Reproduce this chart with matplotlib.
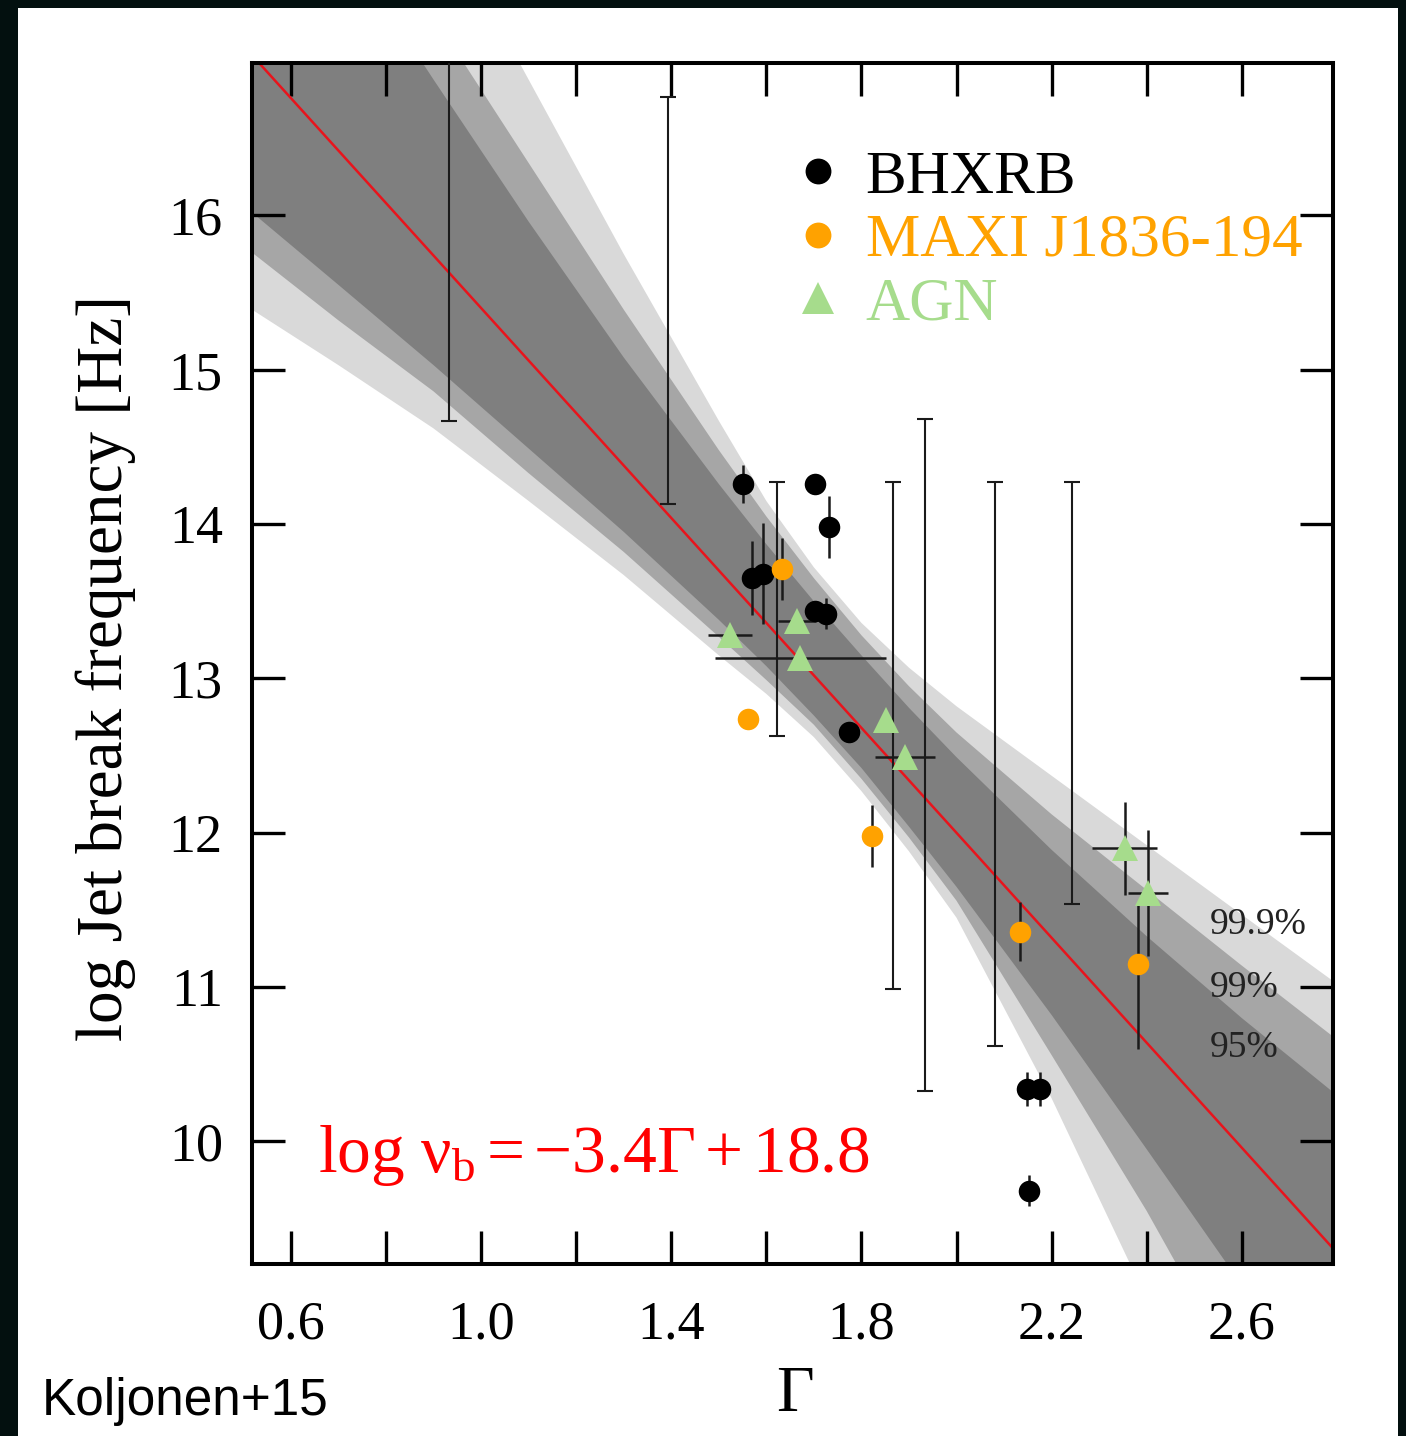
import numpy as np
import matplotlib
matplotlib.use("Agg")
import matplotlib.pyplot as plt
from matplotlib.patches import Rectangle
from matplotlib.ticker import FixedLocator, MultipleLocator

plt.rcParams['font.family'] = 'Liberation Serif'
plt.rcParams['mathtext.fontset'] = 'custom'
plt.rcParams['mathtext.rm'] = 'Liberation Serif'
plt.rcParams['mathtext.it'] = 'Liberation Serif:italic'

# best fit quoted in the figure: log nu_b = -3.4 Gamma + 18.8
fit_slope = -3.4
fit_intercept = 18.8

# confidence bands of the fit (edges read along Gamma)
band_gamma = [0.518, 0.7, 0.9, 1.1, 1.3, 1.5, 1.6, 1.7, 1.8, 1.9, 2.0, 2.2, 2.4, 2.6, 2.792]
band95_hi = [18.69, 17.82, 16.88, 15.96, 15.08, 14.26, 13.87, 13.50, 13.15, 12.81, 12.49, 11.89, 11.33, 10.80, 10.32]
band95_lo = [16.02, 15.55, 15.03, 14.49, 13.95, 13.38, 13.08, 12.76, 12.42, 12.04, 11.65, 10.82, 9.95, 9.07, 8.20]
band99_hi = [19.10, 18.25, 17.29, 16.34, 15.39, 14.48, 14.05, 13.65, 13.28, 12.95, 12.65, 12.12, 11.63, 11.14, 10.68]
band99_lo = [15.76, 15.32, 14.86, 14.33, 13.82, 13.27, 12.99, 12.70, 12.35, 11.97, 11.56, 10.56, 9.55, 8.45, 7.40]
band999_hi = [20.20, 19.16, 18.01, 16.88, 15.75, 14.67, 14.15, 13.72, 13.36, 13.07, 12.82, 12.37, 11.92, 11.47, 11.04]
band999_lo = [15.39, 15.03, 14.62, 14.15, 13.67, 13.15, 12.90, 12.62, 12.27, 11.88, 11.45, 10.28, 8.98, 7.60, 6.30]

# black hole X-ray binaries
bhxrb_gamma = [1.550, 1.702, 1.732, 1.569, 1.592, 1.702, 1.725, 1.774, 2.148, 2.175, 2.152]
bhxrb_lognu = [14.26, 14.26, 13.98, 13.65, 13.68, 13.44, 13.42, 12.65, 10.34, 10.34, 9.68]
bhxrb_err = [0.12, 0.0, 0.20, 0.24, 0.33, 0.0, 0.10, 0.0, 0.11, 0.11, 0.10]

# MAXI J1836-194
maxi_gamma = [1.632, 1.561, 1.822, 2.133, 2.382]
maxi_lognu = [13.71, 12.74, 11.98, 11.36, 11.15]
maxi_err_lo = [0.20, 0.0, 0.20, 0.19, 0.55]
maxi_err_hi = [0.20, 0.0, 0.20, 0.19, 0.39]

# AGN
agn_gamma = [1.523, 1.664, 1.671, 1.851, 1.891, 2.354, 2.403]
agn_lognu = [13.28, 13.37, 13.13, 12.73, 12.49, 11.90, 11.61]
agn_xerr = [0.046, 0.040, 0.180, 0.0, 0.063, 0.068, 0.042]
agn_yerr = [0.0, 0.0, 0.0, 0.0, 0.0, 0.30, 0.41]

# sources with only a range on the break frequency
range_gamma = [0.932, 1.393, 1.622, 1.866, 1.933, 2.081, 2.243]
range_lo = [14.67, 14.13, 12.63, 10.99, 10.33, 10.62, 11.54]
range_hi = [17.40, 16.77, 14.27, 14.27, 14.68, 14.27, 14.27]

gamma_min, gamma_max = 0.518, 2.792
lognu_min, lognu_max = 9.206, 16.99

c_black = '#000000'
c_orange = '#ffa200'
c_green = '#a6dc8c'

fig = plt.figure(figsize=(14.06, 14.36), dpi=100)
fig.patch.set_facecolor('#03100f')
fig.add_artist(Rectangle((18 / 1406, 0), 1380 / 1406, 1428 / 1436,
                         transform=fig.transFigure, facecolor='white',
                         edgecolor='none', zorder=-5))

ax = fig.add_axes([252 / 1406, 172 / 1436, 1081 / 1406, 1201.3 / 1436])

# shaded confidence regions
ax.fill_between(band_gamma, band999_lo, band999_hi, color='#d9d9d9', lw=0, zorder=1)
ax.fill_between(band_gamma, band99_lo, band99_hi, color='#a6a6a6', lw=0, zorder=1)
ax.fill_between(band_gamma, band95_lo, band95_hi, color='#7f7f7f', lw=0, zorder=1)

# fitted relation
g = np.array([gamma_min, gamma_max])
ax.plot(g, fit_slope * g + fit_intercept, color='#e8141c', lw=1.8, zorder=2)

# ranges
rg_lo = np.array(range_lo)
rg_hi = np.array(range_hi)
rg_mid = (rg_lo + rg_hi) / 2
ax.errorbar(range_gamma, rg_mid, yerr=[rg_mid - rg_lo, rg_hi - rg_mid], fmt='none',
            ecolor='#1a1a1a', elinewidth=1.5, capsize=6, capthick=1.5, zorder=3)

# error bars of the measured points
ax.errorbar(bhxrb_gamma, bhxrb_lognu, yerr=bhxrb_err, fmt='none',
            ecolor='#1a1a1a', elinewidth=1.8, zorder=3)
ax.errorbar(maxi_gamma, maxi_lognu, yerr=[maxi_err_lo, maxi_err_hi], fmt='none',
            ecolor='#1a1a1a', elinewidth=1.8, zorder=3)
ax.errorbar(agn_gamma, agn_lognu, xerr=agn_xerr, yerr=agn_yerr, fmt='none',
            ecolor='#1a1a1a', elinewidth=1.8, zorder=3)

# markers
h_bh, = ax.plot(bhxrb_gamma, bhxrb_lognu, 'o', color=c_black, ms=15.5, mew=0,
                zorder=4, label='BHXRB')
h_maxi, = ax.plot(maxi_gamma, maxi_lognu, 'o', color=c_orange, ms=15.5, mew=0,
                  zorder=4, label='MAXI J1836-194')
h_agn, = ax.plot(agn_gamma, agn_lognu, '^', color=c_green, ms=19, mew=0,
                 zorder=4, label='AGN')

ax.set_xlim(gamma_min, gamma_max)
ax.set_ylim(lognu_min, lognu_max)

ax.xaxis.set_major_locator(FixedLocator([0.6, 1.0, 1.4, 1.8, 2.2, 2.6]))
ax.xaxis.set_minor_locator(FixedLocator([0.8, 1.2, 1.6, 2.0, 2.4]))
ax.yaxis.set_major_locator(MultipleLocator(1))
ax.tick_params(which='both', direction='in', top=True, right=True,
               length=23.5, width=2.4, labelsize=39)
ax.tick_params(axis='x', pad=26)
ax.tick_params(axis='y', pad=21)

for sp in ax.spines.values():
    sp.set_linewidth(2.9)

ax.text(0.502, -0.109, r'$\Gamma$', transform=ax.transAxes, ha='center',
        va='center', fontsize=47)
ax.text(-0.135, 0.496, 'log Jet break frequency [Hz]', transform=ax.transAxes,
        rotation=90, ha='center', va='center', fontsize=47)

ax.text(0.061, 0.0766, r'$\mathrm{log}\ \mathrm{\nu}_{\mathrm{b}} = -3.4\Gamma + 18.8$',
        transform=ax.transAxes, color='red', fontsize=48.5, ha='left', va='baseline')

for lab, yy in [('99.9%', 0.282), ('99%', 0.230), ('95%', 0.180)]:
    ax.text(0.886, yy, lab, transform=ax.transAxes, fontsize=27,
            color='#222222', ha='left', va='center')

leg = ax.legend(handles=[h_bh, h_maxi, h_agn], loc='upper left',
                bbox_to_anchor=(0.501, 0.9273), frameon=False, fontsize=44,
                labelcolor=[c_black, c_orange, c_green], handlelength=0.8,
                handletextpad=0.38, labelspacing=0.12, borderpad=0,
                borderaxespad=0, markerscale=1.2)

fig.text(42 / 1406, 1 - 1402 / 1436, 'Koljonen+15', fontsize=37,
         family='Liberation Sans', ha='left', va='center')

fig.savefig('out.png', dpi=100, facecolor=fig.get_facecolor())
